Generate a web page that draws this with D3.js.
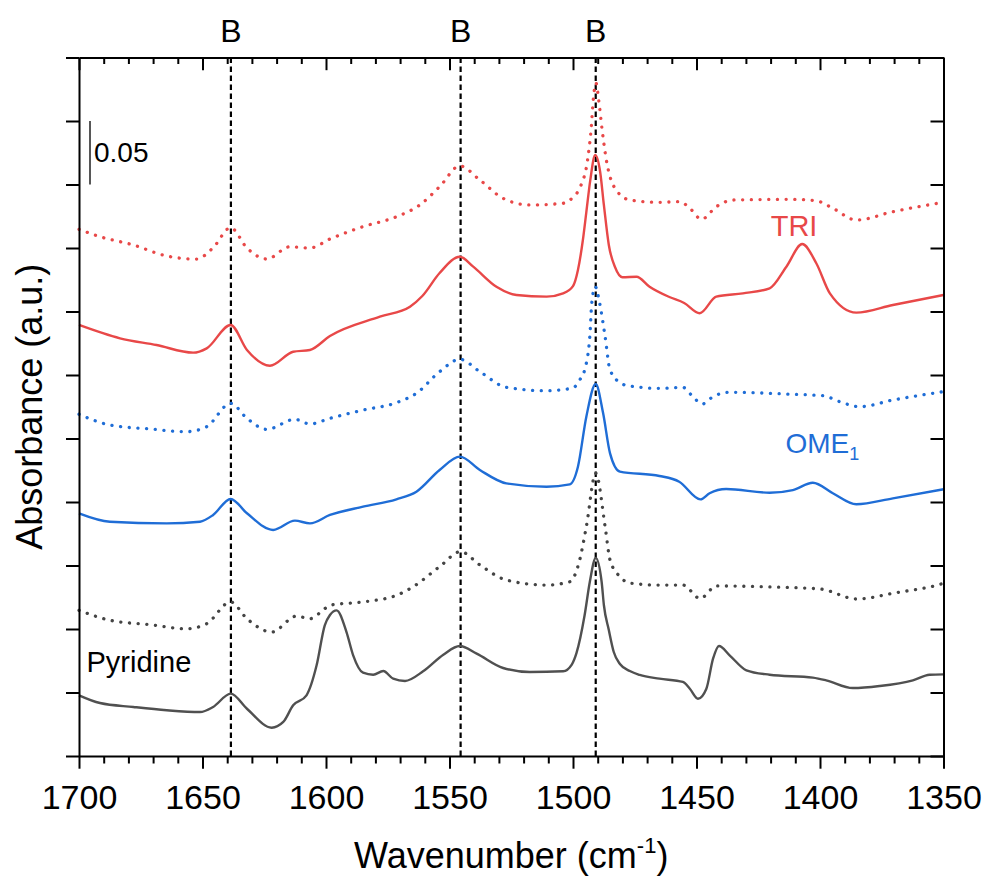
<!DOCTYPE html>
<html>
<head>
<meta charset="utf-8">
<script src="https://cdn.jsdelivr.net/npm/d3@7"></script>
<style>
  html, body { margin: 0; padding: 0; background: #fff; }
  svg { display: block; font-family: "Liberation Sans", Arial, sans-serif; }
</style>
</head>
<body>
<svg id="chart" width="989" height="882"></svg>
<script>
// ---- data (wavenumber cm-1, absorbance a.u.) ----
const triDotted = [[1700,0.4147],[1691.5,0.4089],[1678,0.4024],[1664.5,0.3937],[1652.4,0.3913],[1645.8,0.4000],[1638.6,0.4160],[1632,0.4000],[1624,0.3913],[1614.6,0.4010],[1606.5,0.4000],[1598.4,0.4071],[1585,0.4168],[1571.5,0.4246],[1562,0.4339],[1554,0.4483],[1545.8,0.4646],[1537.7,0.4535],[1528.3,0.4391],[1517.5,0.4339],[1504,0.4352],[1500,0.4400],[1497,0.4483],[1494.1,0.4693],[1492.7,0.4929],[1491.8,0.5165],[1490.7,0.5299],[1489.6,0.5165],[1488.2,0.4929],[1486.5,0.4693],[1483.4,0.4483],[1477,0.4378],[1465,0.4360],[1456.8,0.4365],[1452.8,0.4315],[1448,0.4226],[1442,0.4325],[1435.2,0.4378],[1411,0.4383],[1401.5,0.4372],[1394.8,0.4313],[1385.3,0.4220],[1370.5,0.4286],[1350,0.4360]];
const triSolid = [[1700,0.3394],[1683.4,0.3289],[1668.6,0.3236],[1653.8,0.3176],[1648.3,0.3210],[1638.6,0.3394],[1632,0.3197],[1622.7,0.3073],[1613.3,0.3183],[1606.5,0.3197],[1598.4,0.3307],[1578.2,0.3459],[1566,0.3538],[1561,0.3622],[1554,0.3803],[1545.8,0.3931],[1540.4,0.3853],[1531,0.3695],[1522.9,0.3630],[1510.7,0.3617],[1504,0.3643],[1500,0.3700],[1498,0.3827],[1496,0.4063],[1494.6,0.4283],[1493,0.4535],[1491,0.4732],[1489,0.4598],[1487.5,0.4339],[1485.5,0.4024],[1483,0.3850],[1480,0.3770],[1474.3,0.3774],[1469,0.3695],[1461,0.3614],[1455,0.3567],[1448.7,0.3486],[1442,0.3617],[1431.2,0.3643],[1420.4,0.3683],[1413.6,0.3853],[1407.2,0.4031],[1401.5,0.3880],[1396,0.3643],[1385.3,0.3491],[1370.5,0.3551],[1350,0.3630]];
const omeDotted = [[1700,0.2691],[1687.5,0.2606],[1671.3,0.2575],[1656.4,0.2554],[1648.3,0.2593],[1638.6,0.2777],[1632,0.2659],[1624,0.2572],[1612.6,0.2651],[1606.5,0.2614],[1598.4,0.2659],[1585,0.2724],[1571.5,0.2782],[1563.4,0.2856],[1554,0.3026],[1545.8,0.3124],[1537.7,0.3026],[1527,0.2903],[1510.7,0.2876],[1500,0.2898],[1497.3,0.2961],[1495.3,0.3039],[1493.2,0.3302],[1492.4,0.3565],[1491,0.3695],[1489.2,0.3565],[1487,0.3302],[1485,0.3039],[1480,0.2929],[1477,0.2913],[1465,0.2895],[1455.5,0.2903],[1452.1,0.2843],[1447.6,0.2772],[1443.3,0.2829],[1436.6,0.2864],[1411,0.2848],[1398.8,0.2837],[1392,0.2790],[1384,0.2750],[1370.5,0.2803],[1350,0.2869]];
const omeSolid = [[1700,0.1911],[1687.5,0.1845],[1664.5,0.1832],[1651,0.1845],[1645.7,0.1898],[1638.6,0.2024],[1632,0.1911],[1621.4,0.1780],[1612.6,0.1853],[1606.5,0.1832],[1598.4,0.1898],[1585,0.1963],[1571.5,0.2021],[1563.4,0.2081],[1554,0.2252],[1545.8,0.2357],[1537.7,0.2252],[1527,0.2147],[1510.7,0.2120],[1501.3,0.2139],[1498,0.2278],[1494.6,0.2672],[1490.8,0.2929],[1487.8,0.2698],[1485,0.2383],[1481,0.2239],[1465,0.2205],[1457,0.2160],[1448.4,0.2021],[1444.7,0.2069],[1438,0.2102],[1420.4,0.2073],[1411,0.2094],[1402.9,0.2152],[1394.8,0.2069],[1385.3,0.1982],[1370.5,0.2029],[1350,0.2100]];
const pyrDotted = [[1700,0.1147],[1687.5,0.1069],[1671.3,0.1034],[1656.4,0.1002],[1648.3,0.1042],[1638.6,0.1213],[1632,0.1081],[1622,0.0976],[1611.9,0.1102],[1606.5,0.1081],[1600.5,0.1160],[1598.4,0.1187],[1585,0.1213],[1571.5,0.1265],[1564.7,0.1333],[1554,0.1491],[1545.5,0.1609],[1537.7,0.1504],[1527,0.1386],[1510.7,0.1346],[1501.3,0.1372],[1497.3,0.1543],[1494.6,0.1806],[1490.8,0.2226],[1487,0.1806],[1485,0.1543],[1481,0.1412],[1477,0.1362],[1465,0.1346],[1455.5,0.1346],[1448.5,0.1240],[1442,0.1339],[1420,0.1331],[1400,0.1315],[1385,0.1236],[1370,0.1283],[1351,0.1354],[1350,0.1360]];
const pyrSolid = [[1700,0.0478],[1691.5,0.0417],[1678,0.0386],[1664.5,0.0360],[1651,0.0346],[1645.7,0.0386],[1638.6,0.0491],[1632,0.0372],[1622,0.0223],[1617.3,0.0268],[1613.3,0.0399],[1607.9,0.0478],[1603.8,0.0714],[1600.5,0.1029],[1598.4,0.1110],[1595.7,0.1147],[1591.7,0.0976],[1589,0.0793],[1585,0.0656],[1580.9,0.0640],[1576.8,0.0669],[1572.8,0.0609],[1568,0.0591],[1560.7,0.0667],[1552.5,0.0798],[1545.8,0.0866],[1539,0.0806],[1528.3,0.0693],[1517.5,0.0661],[1504,0.0667],[1500.5,0.0720],[1498.6,0.0810],[1495.3,0.1108],[1493.2,0.1370],[1490.8,0.1559],[1488.4,0.1370],[1487.5,0.1189],[1485.5,0.0992],[1483.5,0.0819],[1481,0.0724],[1477,0.0669],[1473,0.0638],[1465,0.0609],[1455.5,0.0583],[1452.7,0.0530],[1449.4,0.0451],[1446,0.0530],[1443.3,0.0766],[1440.9,0.0866],[1436.6,0.0793],[1429.8,0.0675],[1420.4,0.0640],[1402.9,0.0617],[1397.5,0.0596],[1386.7,0.0535],[1375.9,0.0551],[1362.4,0.0596],[1355.6,0.0640],[1350,0.0643]];

const xMajorTicks = [1700, 1650, 1600, 1550, 1500, 1450, 1400, 1350];
const bandLines = [1638.5, 1545.5, 1490.8];
const bandLabels = ["B", "B", "B"];
const yTicks = d3.range(0, 0.5501, 0.05);
const scaleBarTop = 0.50;
const scaleBar = 0.05;

// ---- layout ----
const svg = d3.select("#chart");
const L = 79, R = 943.5, T = 57.5, B = 756;
const x = d3.scaleLinear().domain([1700, 1350]).range([L, R]);
const y = d3.scaleLinear().domain([0, 0.55]).range([B, T]);
const xMinor = d3.range(1700, 1349, -10).filter(v => v % 50 !== 0);

const red = "#e84848", blue = "#1f6dd6", greyS = "#505050", greyD = "#444444";

// band lines
svg.append("g").selectAll("line").data(bandLines).join("line")
  .attr("x1", d => x(d)).attr("x2", d => x(d)).attr("y1", T).attr("y2", B)
  .attr("stroke", "#000").attr("stroke-width", 2.2).attr("stroke-dasharray", "5.5 3.5");
svg.append("g").selectAll("text").data(bandLines).join("text")
  .attr("x", d => x(d)).attr("y", 42).attr("text-anchor", "middle")
  .attr("font-size", 32).attr("fill", "#000").text((d, i) => bandLabels[i]);

// series
const line = d3.line().x(d => x(d[0])).y(d => y(d[1])).curve(d3.curveMonotoneX);
const series = [
  { data: triDotted, color: red, dotted: true },
  { data: triSolid, color: red, dotted: false },
  { data: omeDotted, color: blue, dotted: true },
  { data: omeSolid, color: blue, dotted: false },
  { data: pyrDotted, color: greyD, dotted: true },
  { data: pyrSolid, color: greyS, dotted: false }
];
svg.append("g").selectAll("path").data(series).join("path")
  .attr("d", d => line(d.data))
  .attr("fill", "none")
  .attr("stroke", d => d.color)
  .attr("stroke-width", d => d.dotted ? 3.3 : 2.4)
  .attr("stroke-linecap", d => d.dotted ? "round" : "butt")
  .attr("stroke-linejoin", "round")
  .attr("stroke-dasharray", d => d.dotted ? "0.1 8.6" : null);

// axes
const axisStyle = g => {
  g.selectAll(".domain").attr("stroke", "#000").attr("stroke-width", 2);
  g.selectAll(".tick line").attr("stroke", "#000").attr("stroke-width", 2);
};
svg.append("g").attr("transform", `translate(0,${B})`)
  .call(d3.axisBottom(x).tickValues(xMajorTicks).tickFormat(d3.format("d"))
    .tickSizeInner(12.7).tickSizeOuter(0).tickPadding(16))
  .call(axisStyle)
  .call(g => g.selectAll("text").attr("font-size", 34).attr("fill", "#000")
    .attr("font-family", "'Liberation Sans', Arial, sans-serif"));
svg.append("g").attr("transform", `translate(0,${B})`)
  .call(d3.axisBottom(x).tickValues(xMinor).tickFormat("").tickSizeInner(7.5).tickSizeOuter(0))
  .call(axisStyle).call(g => g.select(".domain").remove());
svg.append("g").attr("transform", `translate(0,${T})`)
  .call(d3.axisTop(x).tickValues(xMajorTicks).tickFormat("").tickSizeInner(-12.7).tickSizeOuter(0))
  .call(axisStyle);
svg.append("g").attr("transform", `translate(0,${T})`)
  .call(d3.axisTop(x).tickValues(xMinor).tickFormat("").tickSizeInner(-6.5).tickSizeOuter(0))
  .call(axisStyle).call(g => g.select(".domain").remove());
svg.append("g").attr("transform", `translate(${L},0)`)
  .call(d3.axisLeft(y).tickValues(yTicks).tickFormat("").tickSizeInner(13).tickSizeOuter(0))
  .call(axisStyle);
svg.append("g").attr("transform", `translate(${R},0)`)
  .call(d3.axisRight(y).tickValues(yTicks).tickFormat("").tickSizeInner(-13).tickSizeOuter(0))
  .call(axisStyle);

// axis titles
const xt = svg.append("text").attr("x", (L + R) / 2).attr("y", 868)
  .attr("text-anchor", "middle").attr("font-size", 36).attr("fill", "#000");
xt.append("tspan").text("Wavenumber (cm");
xt.append("tspan").attr("font-size", 22).attr("dy", -15).text("-1");
xt.append("tspan").attr("dy", 15).text(")");
svg.append("text").attr("transform", `translate(42,${(T + B) / 2}) rotate(-90)`)
  .attr("text-anchor", "middle").attr("font-size", 36).attr("fill", "#000")
  .text("Absorbance (a.u.)");

// scale bar (0.05 a.u.)
svg.append("line").attr("x1", 90).attr("x2", 90)
  .attr("y1", y(scaleBarTop)).attr("y2", y(scaleBarTop - scaleBar))
  .attr("stroke", "#444").attr("stroke-width", 1.8);
svg.append("text").attr("x", 94).attr("y", 162).attr("font-size", 28).attr("fill", "#000").text("0.05");

// labels
svg.append("text").attr("x", x(1410.5)).attr("y", 236).attr("text-anchor", "middle")
  .attr("font-size", 29).attr("fill", red).text("TRI");
const ome = svg.append("text").attr("x", 785.5).attr("y", 452.5).attr("font-size", 28).attr("fill", blue);
ome.append("tspan").text("OME");
ome.append("tspan").attr("font-size", 18).attr("dy", 7).text("1");
svg.append("text").attr("x", 86.5).attr("y", 672).attr("font-size", 29).attr("fill", "#000").text("Pyridine");
</script>
</body>
</html>
